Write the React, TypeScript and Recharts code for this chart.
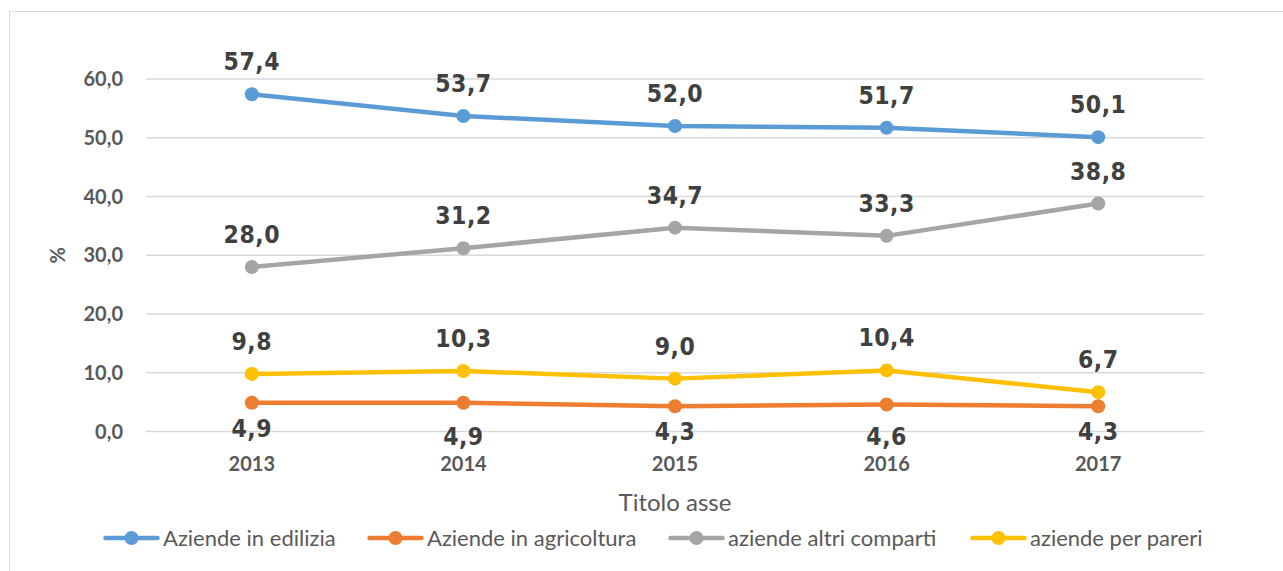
import React from 'react';
import { LineChart, Line, XAxis, YAxis, CartesianGrid, Legend, LabelList } from 'recharts';

const years = ['2013', '2014', '2015', '2016', '2017'];
const edilizia = [57.4, 53.7, 52.0, 51.7, 50.1];
const agricoltura = [4.9, 4.9, 4.3, 4.6, 4.3];
const altriComparti = [28.0, 31.2, 34.7, 33.3, 38.8];
const pareri = [9.8, 10.3, 9.0, 10.4, 6.7];
const yTicks = [0, 10, 20, 30, 40, 50, 60];

const seriesNames = ['Aziende in edilizia', 'Aziende in agricoltura', 'aziende altri comparti', 'aziende per pareri'];
const seriesKeys = ['edilizia', 'agricoltura', 'altri', 'pareri'];
const seriesColors = ['#5B9BD5', '#ED7D31', '#A5A5A5', '#FFC000'];

// label nudges (style only)
const agriLabelShift = [0, 8, 0, 7, 0];
const legendLeft = [103, 367, 668, 970];

const data = years.map((y, i) => ({
  year: y,
  edilizia: edilizia[i],
  agricoltura: agricoltura[i],
  altri: altriComparti[i],
  pareri: pareri[i],
}));

const fmt = (v: number) => v.toFixed(1).replace('.', ',');

const TEXT = '#595959';
const LABEL = '#404040';
const FONT = 'Lato, "Open Sans", sans-serif';
const LABEL_FONT = '"DejaVu Sans Condensed", "DejaVu Sans", sans-serif';

const makeLabel = (below: boolean, shifts?: number[]) => (props: any) => {
  const { x, y, value, index } = props;
  if (x == null || y == null) return null;
  const dy = below ? 34 + (shifts ? shifts[index] || 0 : 0) : -24;
  return (
    <text
      x={x}
      y={y + dy}
      textAnchor="middle"
      fill={LABEL}
      fontFamily={LABEL_FONT}
      fontStretch="condensed"
      fontWeight="bold"
      fontSize={24.5}
      letterSpacing={0.5}
    >
      {fmt(Number(value))}
    </text>
  );
};

const LegendContent = () => (
  <div style={{ position: 'relative', width: 1283, height: 30 }}>
    {seriesNames.map((name, i) => (
      <div
        key={name}
        style={{ position: 'absolute', left: legendLeft[i], top: 0, height: 30, display: 'flex', alignItems: 'center' }}
      >
        <svg width={57} height={30} style={{ display: 'block' }}>
          <line x1={2.5} y1={15} x2={54.5} y2={15} stroke={seriesColors[i]} strokeWidth={4.5} strokeLinecap="round" />
          <circle cx={28.5} cy={15} r={7} fill={seriesColors[i]} />
        </svg>
        <span
          style={{
            marginLeft: 3,
            fontFamily: FONT,
            fontSize: 22,
            color: TEXT,
            lineHeight: '30px',
            whiteSpace: 'nowrap',
          }}
        >
          {name}
        </span>
      </div>
    ))}
  </div>
);

export default function App() {
  return (
    <div
      style={{
        position: 'fixed',
        left: 0,
        top: 0,
        width: 1283,
        height: 571,
        overflow: 'hidden',
        background: '#ffffff',
      }}
    >
      <div
        style={{
          position: 'absolute',
          left: 9,
          top: 11,
          width: 1400,
          height: 700,
          border: '1px solid #d9d9d9',
          boxSizing: 'border-box',
        }}
      />
      <div style={{ position: 'absolute', left: 0, top: 0 }}>
        <LineChart width={1283} height={571} data={data} margin={{ top: 79, right: 79, left: 0, bottom: 18 }}>
          <CartesianGrid vertical={false} stroke="#d9d9d9" strokeWidth={1.5} />
          <XAxis
            dataKey="year"
            padding={{ left: 105.8, right: 105.8 }}
            axisLine={false}
            tickLine={false}
            tickSize={0}
            tickMargin={25}
            height={91.5}
            tick={{ fill: TEXT, fontFamily: FONT, fontWeight: 'bold', fontSize: 20 }}
            label={(p: any) => {
              const vb = p.viewBox || {};
              return (
                <text
                  x={vb.x + vb.width / 2}
                  y={vb.y + 79.5}
                  textAnchor="middle"
                  fill={TEXT}
                  fontFamily={FONT}
                  fontSize={24}
                >
                  Titolo asse
                </text>
              );
            }}
          />
          <YAxis
            domain={[0, 60]}
            ticks={yTicks}
            width={146}
            axisLine={false}
            tickLine={false}
            tickSize={0}
            tickMargin={23}
            tickFormatter={(v: number) => fmt(v)}
            tick={{ fill: TEXT, fontFamily: FONT, fontWeight: 'bold', fontSize: 20 }}
            label={(p: any) => {
              const vb = p.viewBox || {};
              const cx = 57;
              const cy = vb.y + vb.height / 2;
              return (
                <text
                  x={cx}
                  y={cy}
                  textAnchor="middle"
                  dominantBaseline="central"
                  transform={`rotate(-90, ${cx}, ${cy})`}
                  fill={TEXT}
                  fontFamily={FONT}
                  fontWeight="bold"
                  fontSize={20}
                >
                  %
                </text>
              );
            }}
          />
          <Legend verticalAlign="bottom" height={30} wrapperStyle={{ left: 0, width: 1283 }} content={<LegendContent />} />
          {seriesKeys.map((k, i) => (
            <Line
              key={k}
              dataKey={k}
              name={seriesNames[i]}
              stroke={seriesColors[i]}
              strokeWidth={4.5}
              strokeLinejoin="round"
              strokeLinecap="round"
              dot={{ r: 7, fill: seriesColors[i], stroke: seriesColors[i], strokeWidth: 0 }}
              activeDot={false}
              isAnimationActive={false}
            >
              <LabelList
                dataKey={k}
                content={k === 'agricoltura' ? makeLabel(true, agriLabelShift) : makeLabel(false)}
              />
            </Line>
          ))}
        </LineChart>
      </div>
    </div>
  );
}
